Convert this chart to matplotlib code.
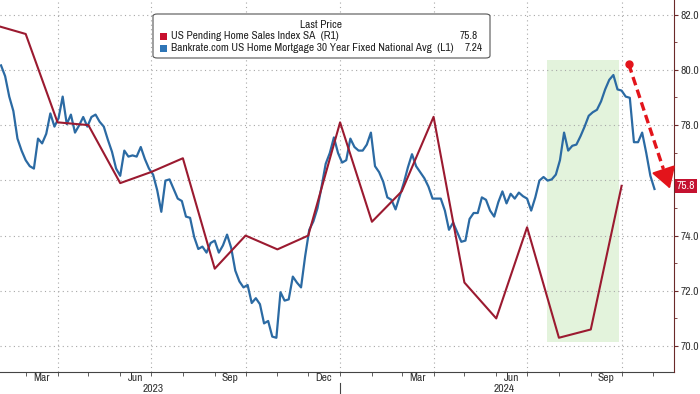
import numpy as np
import pandas as pd
import matplotlib
matplotlib.use('Agg')
from matplotlib import pyplot as plt
from matplotlib import font_manager
import matplotlib.transforms as mtransforms
from matplotlib.patches import Rectangle, FancyBboxPatch

# pick a narrow face if one is installed (Bloomberg charts use a narrow font)
all_names = {f.name for f in font_manager.fontManager.ttflist}
narrow_names = sorted({f.name for f in font_manager.fontManager.ttflist
                       if f.stretch in ('condensed', 'semi-condensed') and f.style == 'normal'})
if 'Liberation Sans Narrow' in all_names:
    plt.rcParams['font.family'] = ['Liberation Sans Narrow', 'DejaVu Sans']
    fs, fs_leg = 8.3, 8.2
elif narrow_names:
    plt.rcParams['font.family'] = [narrow_names[0], 'DejaVu Sans']
    plt.rcParams['font.stretch'] = 'condensed'
    fs, fs_leg = 8.3, 8.2
else:
    plt.rcParams['font.family'] = ['DejaVu Sans']
    fs, fs_leg = 6.5, 6.2

# US Pending Home Sales Index SA, plotted at the end of each month (R1)
pending_dates = pd.date_range('2023-02-01', '2024-10-01', freq='MS')
pending_index = [81.6, 81.3, 78.1, 78.0, 75.9, 76.3, 76.8, 72.8, 74.0, 73.5, 74.0,
                 78.1, 74.5, 75.6, 78.3, 72.3, 71.0, 74.3, 70.3, 70.6, 75.8]

# Bankrate 30y fixed mortgage rate, every 4 days (L1, inverted)
mortgage_rate = [
    6.21, 6.30, 6.47, 6.59, 6.82, 6.92, 7.00, 7.05, 7.07, 6.82,
    6.86, 6.78, 6.61, 6.72, 6.65, 6.47, 6.70, 6.62, 6.77, 6.71,
    6.64, 6.72, 6.64, 6.62, 6.68, 6.72, 6.83, 6.93, 7.07, 7.13,
    6.92, 6.97, 6.96, 6.97, 6.89, 6.99, 7.07, 7.12, 7.25, 7.43,
    7.17, 7.16, 7.24, 7.32, 7.34, 7.47, 7.48, 7.64, 7.74, 7.72,
    7.77, 7.69, 7.67, 7.77, 7.71, 7.62, 7.73, 7.92, 8.01, 8.06,
    8.04, 8.19, 8.15, 8.20, 8.36, 8.34, 8.47, 8.48, 8.10, 8.17,
    8.16, 7.97, 8.02, 8.06, 7.80, 7.58, 7.51, 7.40, 7.22, 7.03,
    6.94, 6.81, 6.94, 7.02, 7.00, 6.82, 6.89, 6.92, 6.92, 6.87,
    6.77, 7.05, 7.10, 7.18, 7.31, 7.33, 7.41, 7.30, 7.19, 7.06,
    6.95, 7.05, 7.10, 7.15, 7.22, 7.32, 7.32, 7.32, 7.42, 7.58,
    7.52, 7.60, 7.68, 7.67, 7.49, 7.44, 7.44, 7.31, 7.33, 7.42,
    7.47, 7.35, 7.26, 7.36, 7.28, 7.32, 7.27, 7.30, 7.32, 7.42,
    7.31, 7.17, 7.14, 7.17, 7.16, 7.12, 7.00, 6.77, 6.92, 6.88,
    6.87, 6.80, 6.72, 6.63, 6.60, 6.58, 6.51, 6.41, 6.33, 6.29,
    6.41, 6.42, 6.47, 6.48, 6.85, 6.85, 6.77, 6.94, 7.13, 7.24,
]
mortgage_dates = pd.date_range('2023-02-05', periods=len(mortgage_rate), freq='4D')

month_ticks = pd.date_range('2023-03-01', '2024-11-01', freq='MS')
quarter_lines = pd.date_range('2023-04-01', '2024-10-01', freq='QS')
month_labels = ['Mar', 'Jun', 'Sep', 'Dec', 'Mar', 'Jun', 'Sep']
month_label_dates = pd.to_datetime(['2023-03-16', '2023-06-16', '2023-09-16', '2023-12-16',
                                    '2024-03-16', '2024-06-16', '2024-09-16'])
year_labels = ['2023', '2024']
year_label_dates = pd.to_datetime(['2023-07-03', '2024-06-09'])
right_ticks = np.arange(70, 83, 2)

shade_start, shade_end = pd.Timestamp('2024-07-20'), pd.Timestamp('2024-09-28')
shade_low, shade_high = 70.16, 80.36
arrow_start = (pd.Timestamp('2024-10-08'), 80.2)
arrow_end = (pd.Timestamp('2024-11-17'), 75.7)

red = '#9b1a30'
blue = '#2b6aa3'
grid_c = '#a8a8a8'
text_c = '#333333'

fig = plt.figure(figsize=(7, 3.94), dpi=100)
ax = fig.add_axes([0, 22 / 394, 674 / 700, 372 / 394])
ax2 = ax.twinx()

ax.set_xlim(pd.Timestamp('2023-02-04'), pd.Timestamp('2024-11-21'))
ax2.set_ylim(69.06, 82.53)
ax.set_ylim(8.765, 5.665)

both = mtransforms.blended_transform_factory(ax.transAxes, ax2.transData)

# shading and grid under the lines
ax.add_patch(Rectangle((shade_start, shade_low), shade_end - shade_start, shade_high - shade_low,
                       transform=ax2.transData, facecolor='#e3f3dc', edgecolor='none', zorder=0))
for v in right_ticks:
    ax.plot([0, 1], [v, v], transform=both, color=grid_c, lw=0.8, ls=(0, (1, 3)), zorder=0.5)
for d in quarter_lines:
    ax.axvline(d, color=grid_c, lw=0.8, ls=(0, (1, 3)), zorder=0.5)

ax.plot(mortgage_dates, mortgage_rate, color=blue, lw=1.6, zorder=2)
ax2.plot(pending_dates, pending_index, color=red, lw=1.5, zorder=3)

# axes styling
for s in ['left', 'top', 'right']:
    ax.spines[s].set_visible(False)
for s in ['left', 'top', 'bottom']:
    ax2.spines[s].set_visible(False)
ax.spines['bottom'].set_color('#444444')
ax2.spines['right'].set_color('#6b2a2a')
ax.tick_params(axis='y', left=False, labelleft=False)

ax.set_xticks([])
ax.set_xticks(month_ticks, minor=True)
ax.tick_params(axis='x', which='minor', length=3, color='#444444', labelbottom=False)
xt = mtransforms.blended_transform_factory(ax.transData, ax.transAxes)
for d, lab in zip(month_label_dates, month_labels):
    ax.text(d, -0.017, lab, transform=xt, ha='center', va='center', fontsize=fs, color=text_c)
for d, lab in zip(year_label_dates, year_labels):
    ax.text(d, -0.047, lab, transform=xt, ha='center', va='center', fontsize=fs, color=text_c)
ax.plot([pd.Timestamp('2024-01-01')] * 2, [-0.03, -0.06], transform=xt, color='#444444',
        lw=0.8, clip_on=False)

# the last-value tag sits where the 76.0 label would be
ax2.set_yticks(right_ticks)
ax2.set_yticks(np.arange(71, 83, 2), minor=True)
ax2.set_yticklabels(['' if v == 76 else f'{v:.1f}' for v in right_ticks])
ax2.tick_params(axis='y', which='major', length=3, pad=1.5, color='#6b2a2a',
                labelsize=fs, labelcolor=text_c)
ax2.tick_params(axis='y', which='minor', length=2, color='#6b2a2a')

ax2.text(1.004, pending_index[-1], f'{pending_index[-1]:.1f}', transform=both, ha='left',
         va='center', fontsize=fs, color='white', clip_on=False,
         bbox=dict(boxstyle='square,pad=0.18', fc='#c41230', ec='none'))

# dashed red arrow: dashed shaft, solid head
arrow_c = '#e3141b'
ax2.plot([arrow_start[0]], [arrow_start[1]], 'o', color=arrow_c, ms=5, zorder=5)
head_from = (arrow_start[0] + (arrow_end[0] - arrow_start[0]) * 0.84,
             arrow_start[1] + (arrow_end[1] - arrow_start[1]) * 0.84)
ax2.plot([arrow_start[0], head_from[0]], [arrow_start[1], head_from[1]], color=arrow_c,
         lw=2.4, ls=(0, (2.6, 1.4)), solid_capstyle='butt', zorder=5)
ax2.annotate('', xy=arrow_end, xytext=head_from,
             arrowprops=dict(arrowstyle='-|>,head_length=0.75,head_width=0.45', color=arrow_c,
                             lw=1.5, mutation_scale=17, shrinkA=0, shrinkB=0), zorder=5)

# legend box
def fx(px):
    return px / 700

def fy(py):
    return 1 - py / 394

fig.add_artist(FancyBboxPatch((fx(153), fy(58)), fx(490) - fx(153), fy(14) - fy(58),
                              boxstyle='round,pad=0,rounding_size=0.006', transform=fig.transFigure,
                              facecolor='white', edgecolor='#555555', lw=0.8, zorder=6))
fig.text(fx(321), fy(25), 'Last Price', ha='center', va='center', fontsize=fs_leg,
         color='#222222', zorder=7)
rows = [('US Pending Home Sales Index SA  (R1)', f'{pending_index[-1]:.1f}', '#c8102e', 36, 478),
        ('Bankrate.com US Home Mortgage 30 Year Fixed National Avg  (L1)',
         f'{mortgage_rate[-1]:.2f}', '#2e75b6', 48, 483)]
for label, val, col, py, vx in rows:
    fig.add_artist(Rectangle((fx(160), fy(py + 4)), fx(7), 7 / 394, transform=fig.transFigure,
                             facecolor=col, edgecolor='none', zorder=7))
    fig.text(fx(171), fy(py), label, ha='left', va='center', fontsize=fs_leg, color='#222222',
             zorder=7)
    fig.text(fx(vx), fy(py), val, ha='right', va='center', fontsize=fs_leg, color='#222222',
             zorder=7)

fig.savefig('out.png', dpi=100)
